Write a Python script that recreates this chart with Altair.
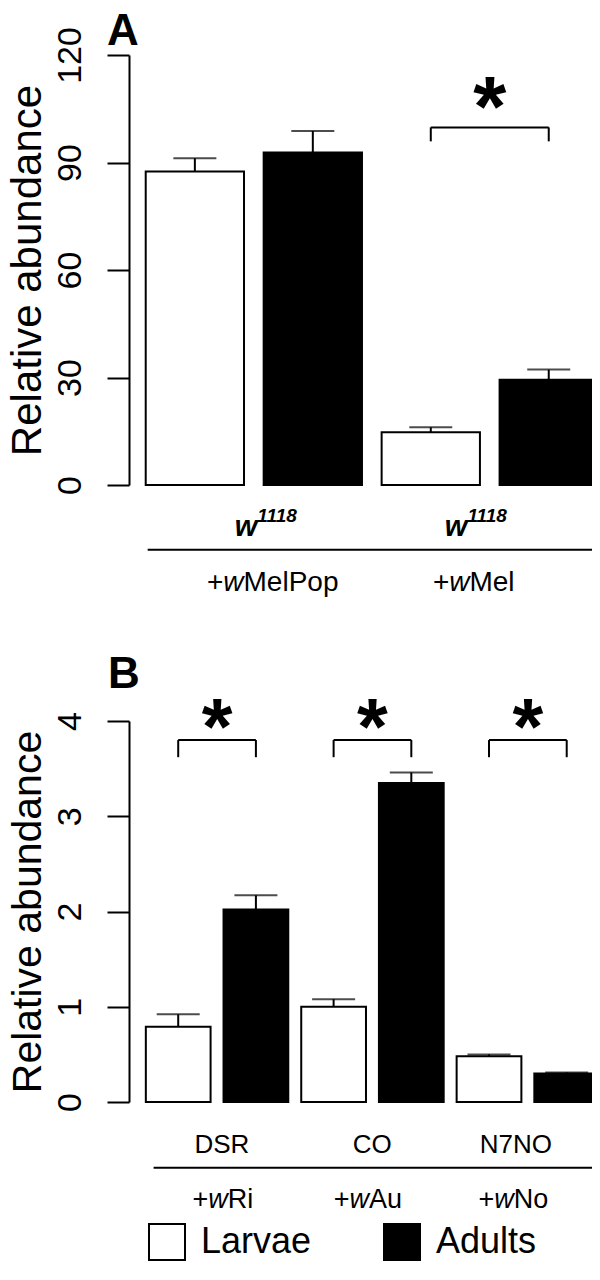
import altair as alt
import pandas as pd

# ---------------- data ----------------
stages = ["Larvae", "Adults"]

hosts_A = ["w", "w"]                 # w^1118 host
hosts_A_sup = ["1118", "1118"]
strains_A = ["+wMelPop", "+wMel"]
larvae_A = [87.5, 14.7]
larvae_A_se = [3.7, 1.4]
adults_A = [92.8, 29.4]
adults_A_se = [6.0, 2.8]
ticks_A = [0, 30, 60, 90, 120]
signif_A = [False, True]

hosts_B = ["DSR", "CO", "N7NO"]
strains_B = ["+wRi", "+wAu", "+wNo"]
larvae_B = [0.79, 1.00, 0.48]
larvae_B_se = [0.13, 0.08, 0.02]
adults_B = [2.02, 3.35, 0.30]
adults_B_se = [0.15, 0.11, 0.01]
ticks_B = [0, 1, 2, 3, 4]
signif_B = [True, True, True]

# ---------------- layout / style ----------------
FONT = "Liberation Sans"
W = 469              # plot width (px)
H = 1047             # plot area from top of panel A axis to bottom of panel B axis
A_RANGE = [430, 0]   # pixel range of panel A's y axis
B_TOP = 666
B_RANGE = [H, B_TOP]

AW = {'+': 0.584, 'w': 0.722, 'M': 0.833, 'e': 0.556, 'l': 0.222, 'P': 0.667,
      'o': 0.556, 'p': 0.556, 'R': 0.722, 'i': 0.222, 'A': 0.667, 'u': 0.556,
      'N': 0.722, '1': 0.556, '8': 0.556}


def tw(s, fs, bold_w=False):
    return sum((0.778 if (bold_w and c == 'w') else AW.get(c, 0.556)) for c in s) * fs


def bars_df(larvae, larvae_se, adults, adults_se):
    rows = []
    for g in range(len(larvae)):
        for s, (v, e) in enumerate([(larvae[g], larvae_se[g]), (adults[g], adults_se[g])]):
            i = 2 * g + s
            left = 0.2 + 1.2 * i
            rows.append(dict(stage=stages[s], left=left, right=left + 1.0,
                             center=left + 0.5, value=v, top=v + e))
    return pd.DataFrame(rows)


def bracket_df(signif, ytop, ybot):
    rows = []
    for g, sig in enumerate(signif):
        if sig:
            xl = 0.2 + 1.2 * (2 * g) + 0.5
            xr = 0.2 + 1.2 * (2 * g + 1) + 0.5
            rows.append(dict(xl=xl, xr=xr, xm=(xl + xr) / 2, ytop=ytop, ybot=ybot))
    return pd.DataFrame(rows)


def strain_segments(labels, centers, fs, ppu):
    rows = []
    for lab, c in zip(labels, centers):
        parts = [(lab[0], "normal"), (lab[1], "italic"), (lab[2:], "normal")]
        total = sum(tw(p, fs) for p, _ in parts)
        off = -total / 2
        for p, st in parts:
            rows.append(dict(x=c + off / ppu, t=p, st=st))
            off += tw(p, fs)
    return pd.DataFrame(rows)


def host_w_segments(mains, sups, centers, fs_main, fs_sup, ppu):
    rows = []
    for m, s, c in zip(mains, sups, centers):
        wm = tw(m, fs_main, bold_w=True)
        ws = tw(s, fs_sup)
        start = c - (wm + ws) / 2 / ppu
        rows.append(dict(x=start, t=m, kind="main"))
        rows.append(dict(x=start + wm / ppu, t=s, kind="sup"))
    return pd.DataFrame(rows)


def y_axis(values, title_size, title_y):
    return alt.Axis(values=values, format="d", orient="left", title="Relative abundance",
                    titleFont=FONT, titleFontSize=title_size, titleFontWeight="normal",
                    titleColor="black", titleAngle=270, titleAlign="center",
                    titleBaseline="alphabetic", titleX=-89, titleY=title_y,
                    labelFont=FONT, labelFontSize=34, labelColor="black", labelAngle=270,
                    labelAlign="center", labelBaseline="alphabetic", labelPadding=27,
                    labelFlush=False, labelOverlap=False,
                    tickSize=22, tickWidth=2, tickColor="black",
                    domainColor="black", domainWidth=2, grid=False)


def panel_layers(letter, larvae, larvae_se, adults, adults_se, signif, ymax, ticks, yrange,
                 xdom, title_size, bracket_top, bracket_bot, star_size, star_dy,
                 host_layers, strain_df, strain_fs, strain_y, line_x, line_y, letter_xy,
                 legend):
    xs = alt.Scale(domain=xdom, range=[0, W], nice=False, zero=False)
    ys = alt.Scale(domain=[0, ymax], range=yrange, nice=False, zero=True)
    df = bars_df(larvae, larvae_se, adults, adults_se)
    base = alt.Chart(df)

    if legend:
        lg = alt.Legend(orient="none", legendX=19, legendY=1168, direction="horizontal",
                        title=None, symbolType="square", symbolSize=1296,
                        symbolStrokeColor="black", symbolStrokeWidth=2,
                        labelFont=FONT, labelFontSize=36, labelColor="black",
                        labelOffset=15, columnPadding=68, padding=0, labelLimit=0)
    else:
        lg = None

    X = lambda f: alt.X(f, scale=xs, axis=None)
    Y = lambda f: alt.Y(f, scale=ys, axis=None)

    bars = base.mark_rect(stroke="black", strokeWidth=2).encode(
        x=X("left:Q"),
        x2="right:Q",
        y=alt.Y("value:Q", scale=ys,
                axis=y_axis(ticks, title_size, (yrange[0] + yrange[1]) / 2)),
        y2=alt.datum(0),
        fill=alt.Fill("stage:N", scale=alt.Scale(domain=stages, range=["white", "black"]),
                      legend=lg),
    )
    err = base.mark_rule(color="black", strokeWidth=2).encode(
        x=X("center:Q"), y=Y("value:Q"), y2="top:Q")
    cap = base.mark_tick(orient="horizontal", size=43, thickness=2, color="black").encode(
        x=X("center:Q"), y=Y("top:Q"))

    layers = [bars, err, cap]

    bdf = bracket_df(signif, bracket_top, bracket_bot)
    bb = alt.Chart(bdf)
    layers += [
        bb.mark_rule(color="black", strokeWidth=2).encode(
            x=X("xl:Q"), x2="xr:Q", y=Y("ytop:Q")),
        bb.mark_rule(color="black", strokeWidth=2).encode(
            x=X("xl:Q"), y=Y("ytop:Q"), y2="ybot:Q"),
        bb.mark_rule(color="black", strokeWidth=2).encode(
            x=X("xr:Q"), y=Y("ytop:Q"), y2="ybot:Q"),
        bb.mark_text(text="*", font=FONT, fontSize=star_size, fontWeight="bold",
                     align="center", baseline="alphabetic", color="black", dy=star_dy).encode(
            x=X("xm:Q"), y=Y("ybot:Q")),
    ]

    layers += [l(X) for l in host_layers]

    sc = alt.Chart(strain_df)
    for st in ["normal", "italic"]:
        layers.append(sc.transform_filter(alt.datum.st == st).mark_text(
            font=FONT, fontSize=strain_fs, fontStyle=st, align="left",
            baseline="alphabetic", color="black").encode(
            x=X("x:Q"), y=alt.value(strain_y), text="t:N"))

    ldf = pd.DataFrame(dict(x0=[line_x[0]], x1=[line_x[1]]))
    layers.append(alt.Chart(ldf).mark_rule(color="black", strokeWidth=2).encode(
        x=X("x0:Q"), x2="x1:Q", y=alt.value(line_y)))

    layers.append(alt.Chart(pd.DataFrame(dict(t=[letter]))).mark_text(
        font=FONT, fontSize=44, fontWeight="bold", align="left", baseline="alphabetic",
        color="black").encode(x=alt.value(letter_xy[0]), y=alt.value(letter_xy[1]), text="t:N"))

    return layers


# ---------- Panel A ----------
ppuA = 98.3
xdomA = [0.03, 0.03 + W / ppuA]
hA = host_w_segments(hosts_A, hosts_A_sup, [1.436, 3.573], 29, 19, ppuA)


def host_layers_A():
    out = []
    for kind, fs, yv in [("main", 29, 480.8), ("sup", 19, 466.5)]:
        sub = hA[hA.kind == kind]
        out.append(lambda X, sub=sub, fs=fs, yv=yv: alt.Chart(sub).mark_text(
            font=FONT, fontSize=fs, fontWeight="bold", fontStyle="italic", align="left",
            baseline="alphabetic", color="black").encode(
            x=X("x:Q"), y=alt.value(yv), text="t:N"))
    return out


layersA = panel_layers("A", larvae_A, larvae_A_se, adults_A, adults_A_se, signif_A, 120,
                       ticks_A, A_RANGE, xdomA, 42, 99.8, 95.9, 85, -5, host_layers_A(),
                       strain_segments(strains_A, [1.492, 3.537], 28, ppuA), 28, 536,
                       [0.22, 4.77], 494.8, (-22, -10.5), False)

# ---------- Panel B ----------
ppuB = 64.75
xdomB = [-0.06, -0.06 + W / ppuB]
hB = pd.DataFrame(dict(x=[1.374, 3.698, 5.915], t=hosts_B))


def host_layers_B():
    return [lambda X: alt.Chart(hB).mark_text(
        font=FONT, fontSize=26, align="center", baseline="alphabetic", color="black").encode(
        x=X("x:Q"), y=alt.value(B_TOP + 432), text="t:N")]


layersB = panel_layers("B", larvae_B, larvae_B_se, adults_B, adults_B_se, signif_B, 4,
                       ticks_B, B_RANGE, xdomB, 41, 3.80, 3.62, 79, -3, host_layers_B(),
                       strain_segments(strains_B, [1.390, 3.629, 5.876], 27, ppuB), 27,
                       B_TOP + 487, [0.32, 7.12], B_TOP + 446.7, (-21, B_TOP - 33), True)

chart = alt.layer(*(layersA + layersB)).resolve_scale(
    x="independent", y="independent", fill="independent"
).resolve_axis(x="independent", y="independent").resolve_legend(fill="independent").properties(
    width=W, height=H,
    autosize=alt.AutoSizeParams(type="none"),
    padding={"left": 121, "top": 47, "right": -6, "bottom": 163},
).configure_view(stroke=None)

chart.save("out.html", embed_options={"renderer": "svg", "actions": False})
